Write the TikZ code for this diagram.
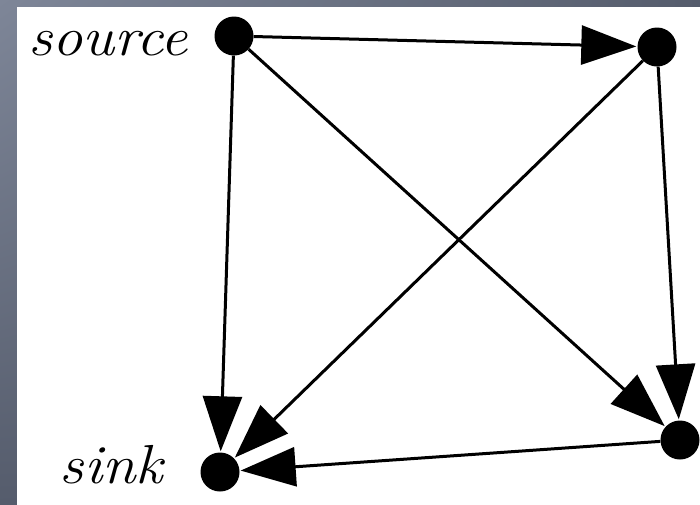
\documentclass[tikz,border=0pt]{standalone}
\usetikzlibrary{arrows.meta,shadings}
\definecolor{framelight}{HTML}{7E8698}
\definecolor{framedark}{HTML}{555C6C}
\begin{document}
\begin{tikzpicture}[x=1pt,y=-1pt,
  dot/.style={circle,fill=black,inner sep=0pt,minimum size=39pt},
  edge/.style={line width=3pt,-{Triangle[length=55pt,width=39pt]},shorten >=1pt},
  lbl/.style={font=\fontsize{55}{60}\selectfont\itshape,inner sep=0pt,anchor=base east,xscale=1.1}]
\useasboundingbox (0,0) rectangle (700,504);
\shade[upper left=framelight,upper right=framedark,lower left=framedark,lower right=framedark] (0,0) rectangle (700,504);
\fill[white] (17,7) rectangle (702,506);
\node[dot] (src) at (234,36) {};
\node[dot] (tr) at (657,47) {};
\node[dot] (br) at (680,440) {};
\node[dot] (snk) at (220,472) {};
\node[lbl] (lsrc) at (188,55) {source};
\node[lbl] (lsnk) at (163,483) {sink};
\draw[edge] (src) -- (tr);
\draw[edge] (src) -- (snk);
\draw[edge] (src) -- (br);
\draw[edge] (tr) -- (snk);
\draw[edge] (tr) -- (br);
\draw[edge] (br) -- (snk);
\end{tikzpicture}
\end{document}
